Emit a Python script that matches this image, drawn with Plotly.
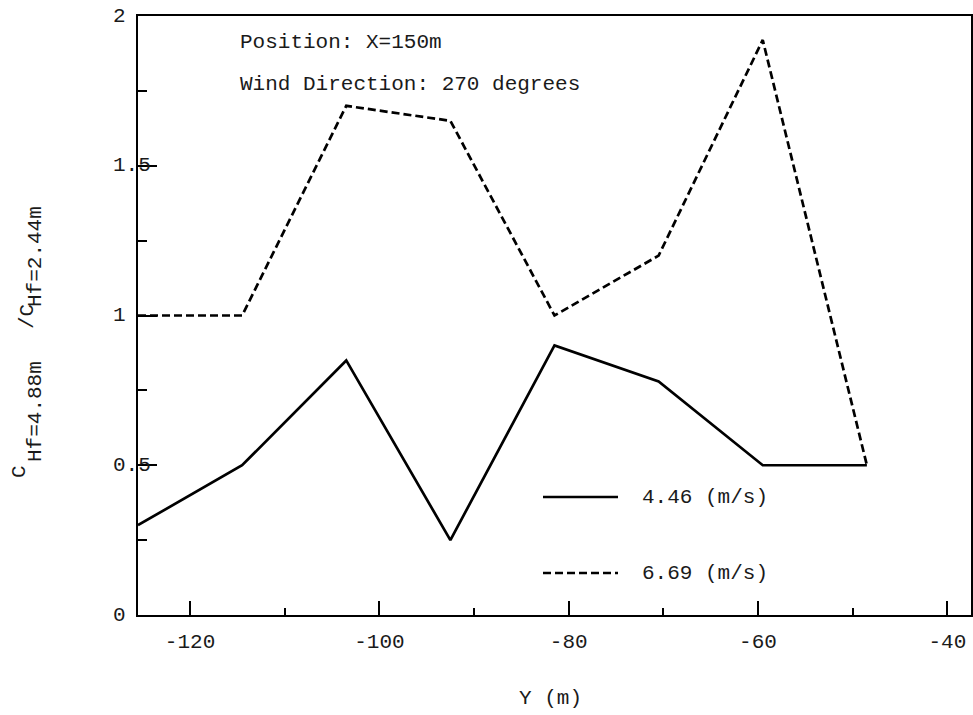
import plotly.graph_objects as go

# ---- data ----
y_pos = [-125.5, -114.5, -103.5, -92.5, -81.5, -70.5, -59.5, -48.5]
ratio_446 = [0.30, 0.50, 0.85, 0.25, 0.90, 0.78, 0.50, 0.50]
ratio_669 = [1.00, 1.00, 1.70, 1.65, 1.00, 1.20, 1.92, 0.50]
series_names = ["4.46 (m/s)", "6.69 (m/s)"]
x_ticks = [-120, -100, -80, -60, -40]
y_ticks = [0, 0.5, 1, 1.5, 2]
y_tick_text = ["0", "0.5", "1", "1.5", "2"]

FONT = "Liberation Mono"
FS = 21
TXT = "#1a1a1a"

# plot-area pixel geometry
W_PAGE, H_PAGE = 973, 715
L, R, T, B = 138, 971, 16, 615
PW, PH = R - L, B - T


def px(p):
    return (p - L) / PW


def py(p):
    return (B - p) / PH


fig = go.Figure()
fig.add_trace(go.Scatter(x=y_pos, y=ratio_446, mode="lines", name=series_names[0],
                         line=dict(color="black", width=2.7), showlegend=False))
fig.add_trace(go.Scatter(x=y_pos, y=ratio_669, mode="lines", name=series_names[1],
                         line=dict(color="black", width=2.7, dash="8px,4px"), showlegend=False))

annotations = []
# y tick labels (left aligned, as in the original)
for v, t in zip(y_ticks, y_tick_text):
    annotations.append(dict(x=px(111), xref="paper", y=v, yref="y", text=t,
                            showarrow=False, xanchor="left", yanchor="middle",
                            font=dict(family=FONT, size=FS, color=TXT)))

# in-plot text
annotations.append(dict(x=px(238), y=py(42), xref="paper", yref="paper",
                        text="Position: X=150m", showarrow=False,
                        xanchor="left", yanchor="middle",
                        font=dict(family=FONT, size=FS, color=TXT)))
annotations.append(dict(x=px(238), y=py(85), xref="paper", yref="paper",
                        text="Wind Direction: 270 degrees", showarrow=False,
                        xanchor="left", yanchor="middle",
                        font=dict(family=FONT, size=FS, color=TXT)))

# legend labels
for name, yy in zip(series_names, [497, 573]):
    annotations.append(dict(x=px(640), y=py(yy), xref="paper", yref="paper",
                            text=name, showarrow=False, xanchor="left", yanchor="middle",
                            font=dict(family=FONT, size=FS, color=TXT)))

# axis titles
annotations.append(dict(x=px(550), y=py(699), xref="paper", yref="paper",
                        text="Y (m)", showarrow=False, xanchor="center", yanchor="middle",
                        font=dict(family=FONT, size=FS, color=TXT)))
for text, xc, yc in [("C", 19, 472), ("Hf=4.88m", 35, 412),
                     ("/C", 27, 317), ("Hf=2.44m", 35, 257)]:
    annotations.append(dict(x=px(xc), y=py(yc), xref="paper", yref="paper",
                            text=text, showarrow=False, textangle=-90,
                            xanchor="center", yanchor="middle",
                            font=dict(family=FONT, size=FS, color=TXT)))

shapes = [
    dict(type="line", xref="paper", yref="paper", x0=px(543), x1=px(618),
         y0=py(497), y1=py(497), line=dict(color="black", width=2.7)),
    dict(type="line", xref="paper", yref="paper", x0=px(543), x1=px(618),
         y0=py(573), y1=py(573), line=dict(color="black", width=2.7, dash="8px,4px")),
]

fig.update_layout(
    width=W_PAGE, height=H_PAGE,
    margin=dict(l=L, r=W_PAGE - R, t=T, b=H_PAGE - B, autoexpand=False),
    paper_bgcolor="white", plot_bgcolor="white",
    showlegend=False,
    annotations=annotations, shapes=shapes,
    xaxis=dict(range=[-125.5, -37.5], tickvals=x_ticks, ticktext=[str(v) for v in x_ticks],
               ticks="inside", ticklen=14, tickwidth=1.8, tickcolor="black",
               minor=dict(dtick=10, tick0=-110, ticks="inside", ticklen=7,
                          tickwidth=1.5, tickcolor="black", showgrid=False),
               showline=True, linecolor="black", linewidth=2.2, mirror=True,
               showgrid=False, zeroline=False,
               ticklabelstandoff=6,
               tickfont=dict(family=FONT, size=FS, color=TXT)),
    yaxis=dict(range=[0, 2], tickvals=y_ticks, showticklabels=False,
               ticks="inside", ticklen=19, tickwidth=1.8, tickcolor="black",
               minor=dict(dtick=0.25, tick0=0, ticks="inside", ticklen=9,
                          tickwidth=1.5, tickcolor="black", showgrid=False),
               showline=True, linecolor="black", linewidth=2.2, mirror=True,
               showgrid=False, zeroline=False),
)

fig.write_html("out.html")
